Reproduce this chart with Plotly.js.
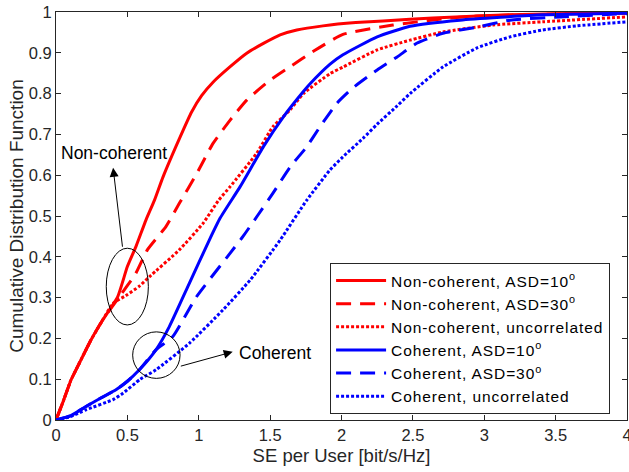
<!DOCTYPE html>
<html><head><meta charset="utf-8">
<script src="https://cdn.plot.ly/plotly-3.0.1.min.js"></script>
<style>html,body{margin:0;padding:0;background:#fff}#plot{width:629px;height:472px}
.legendtext{letter-spacing:0.9px}</style>
</head><body><div id="plot"></div>
<script>
// ---- data ----
const seriesNames = ['Non-coherent, ASD=10<sup>o</sup>','Non-coherent, ASD=30<sup>o</sup>','Non-coherent, uncorrelated','Coherent, ASD=10<sup>o</sup>','Coherent, ASD=30<sup>o</sup>','Coherent, uncorrelated'];

const nc10_x = [0,0.05,0.105,0.163,0.245,0.327,0.432,0.50,0.56,0.63,0.69,0.75,0.87,0.95,1.02,1.10,1.22,1.336,1.453,1.57,1.687,1.87,2.1,2.48,2.8,3.18,3.5,4.0];
const nc10_y = [0,0.045,0.098,0.139,0.196,0.245,0.302,0.376,0.425,0.49,0.539,0.596,0.694,0.755,0.795,0.828,0.866,0.899,0.923,0.944,0.956,0.966,0.974,0.982,0.988,0.993,0.996,0.998];

const nc30_x = [0,0.05,0.105,0.163,0.245,0.327,0.44,0.56,0.64,0.77,0.864,0.986,1.10,1.22,1.336,1.50,1.64,1.80,2.01,2.36,2.7,2.95,3.5,4.0];
const nc30_y = [0,0.045,0.098,0.139,0.196,0.245,0.30,0.36,0.417,0.474,0.531,0.604,0.678,0.735,0.784,0.833,0.866,0.903,0.945,0.968,0.983,0.99,0.995,0.997];

const ncun_x = [0,0.05,0.105,0.163,0.245,0.327,0.40,0.49,0.584,0.654,0.864,1.03,1.14,1.22,1.406,1.52,1.64,1.733,1.92,2.01,2.25,2.48,2.71,3.06,3.41,4.0];
const ncun_y = [0,0.045,0.098,0.139,0.196,0.245,0.286,0.305,0.328,0.351,0.417,0.482,0.539,0.572,0.654,0.719,0.76,0.80,0.849,0.865,0.907,0.931,0.951,0.968,0.976,0.988];

const c10_x = [0,0.1,0.21,0.32,0.42,0.50,0.584,0.70,0.794,0.934,1.074,1.15,1.29,1.453,1.593,1.733,1.78,1.92,2.01,2.25,2.48,2.83,3.41,4.0];
const c10_y = [0,0.01,0.033,0.055,0.074,0.095,0.123,0.172,0.229,0.335,0.441,0.495,0.572,0.67,0.743,0.805,0.824,0.872,0.895,0.939,0.965,0.98,0.993,0.997];

const c30_x = [0,0.1,0.21,0.32,0.42,0.50,0.584,0.70,0.817,0.98,1.2,1.31,1.41,1.52,1.64,1.757,1.85,1.967,2.08,2.25,2.39,2.53,2.71,2.95,3.18,3.53,4.0];
const c30_y = [0,0.01,0.033,0.055,0.074,0.095,0.123,0.172,0.204,0.30,0.40,0.45,0.50,0.556,0.62,0.67,0.719,0.776,0.814,0.858,0.89,0.924,0.948,0.963,0.98,0.988,0.996];

const cun_x = [0,0.1,0.21,0.40,0.467,0.59,0.70,0.934,1.17,1.36,1.57,1.757,1.92,2.01,2.15,2.25,2.39,2.48,2.71,2.95,3.18,3.41,3.65,4.0];
const cun_y = [0,0.008,0.025,0.05,0.065,0.1,0.123,0.188,0.27,0.343,0.441,0.539,0.613,0.645,0.69,0.725,0.77,0.80,0.865,0.912,0.939,0.956,0.966,0.976];

const xTicks = [0,0.5,1,1.5,2,2.5,3,3.5,4];
const xTickText = ['0','0.5','1','1.5','2','2.5','3','3.5','4'];
const yTicks = [0,0.1,0.2,0.3,0.4,0.5,0.6,0.7,0.8,0.9,1];
const yTickText = ['0','0.1','0.2','0.3','0.4','0.5','0.6','0.7','0.8','0.9','1'];

// ---- figure ----
const RED = '#ff0000', BLUE = '#0000ff', AX = '#262626';
const FONT = '"Liberation Sans", Arial, sans-serif';
const mk = (x, y, name, color, dash) => ({x, y, name, type:'scatter', mode:'lines',
  line:{color, width:3, dash, shape:'spline', smoothing:0.5}});
const traces = [
  mk(nc10_x, nc10_y, seriesNames[0], RED, 'solid'),
  mk(nc30_x, nc30_y, seriesNames[1], RED, '15px,9px'),
  mk(ncun_x, ncun_y, seriesNames[2], RED, '3px,2px'),
  mk(c10_x, c10_y, seriesNames[3], BLUE, 'solid'),
  mk(c30_x, c30_y, seriesNames[4], BLUE, '15px,9px'),
  mk(cun_x, cun_y, seriesNames[5], BLUE, '3px,2px')
];

const axisCommon = {showgrid:false, zeroline:false, showline:true, linecolor:AX, linewidth:1,
  mirror:'ticks', ticks:'inside', ticklen:5, tickcolor:AX, tickwidth:1,
  tickfont:{family:FONT, size:16.5, color:AX}, tickmode:'array', ticklabeloverflow:'allow'};

const layout = {
  width:629, height:472,
  margin:{l:56, r:2, t:12, b:52},
  paper_bgcolor:'#fff', plot_bgcolor:'#fff',
  font:{family:FONT, size:16.5, color:AX},
  showlegend:true,
  legend:{x:0.48, y:0.385, xanchor:'left', yanchor:'top', bgcolor:'#fff', itemwidth:50,
    bordercolor:AX, borderwidth:1, font:{family:FONT, size:15.5, color:'#000'}, tracegroupgap:0},
  xaxis:Object.assign({}, axisCommon, {range:[0,4], tickvals:xTicks, ticktext:xTickText,
    title:{text:'SE per User [bit/s/Hz]', font:{family:FONT, size:18.5, color:AX}, standoff:6}}),
  yaxis:Object.assign({}, axisCommon, {range:[0,1], tickvals:yTicks, ticktext:yTickText,
    title:{text:'Cumulative Distribution Function', font:{family:FONT, size:19, color:AX}, standoff:0}}),
  shapes:[
    {type:'circle', xref:'x', yref:'y', x0:0.352, x1:0.647, y0:0.233, y1:0.421, line:{color:'#000', width:1}},
    {type:'circle', xref:'x', yref:'y', x0:0.537, x1:0.869, y0:0.102, y1:0.216, line:{color:'#000', width:1}}
  ],
  annotations:[
    {x:0.40, y:0.618, ax:0.467, ay:0.421, xref:'x', yref:'y', axref:'x', ayref:'y',
      showarrow:true, arrowhead:2, arrowsize:1.8, arrowwidth:1, arrowcolor:'#000', text:''},
    {x:1.238, y:0.167, ax:0.864, ay:0.131, xref:'x', yref:'y', axref:'x', ayref:'y',
      showarrow:true, arrowhead:2, arrowsize:1.8, arrowwidth:1, arrowcolor:'#000', text:''},
    {x:0.406, y:0.654, xref:'x', yref:'y', text:'Non-coherent', showarrow:false,
      font:{family:FONT, size:17.5, color:'#000'}},
    {x:1.268, y:0.165, xref:'x', yref:'y', text:'Coherent', showarrow:false, xanchor:'left',
      font:{family:FONT, size:17.5, color:'#000'}}
  ]
};
Plotly.newPlot('plot', traces, layout, {displayModeBar:false, staticPlot:true});
</script>
</body></html>
